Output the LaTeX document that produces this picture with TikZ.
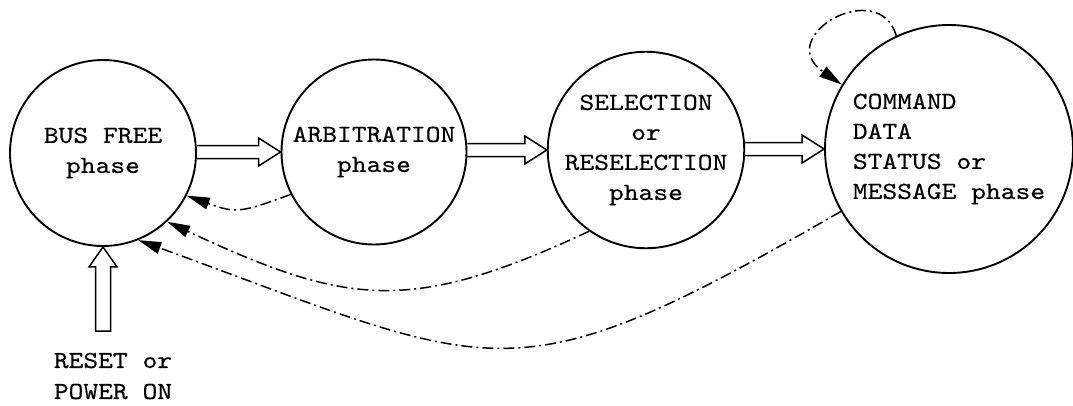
\documentclass[tikz,border=0pt]{standalone}
\usepackage{fontspec}
\setmonofont{lmmono10-regular.otf}[FakeStretch=1.15,FakeBold=0.3]
\usetikzlibrary{arrows.meta,calc}
\tikzset{
  phasenode/.style={circle,draw,line width=1.9pt,inner sep=0pt,
    font={\ttfamily\fontsize{24.5pt}{30pt}\selectfont}},
  hollowarrow/.style={draw,line width=1.5pt,line join=miter},
  returnarrow/.style={line width=1.5pt,
    dash pattern=on 11pt off 4pt on 2pt off 4pt,
    -{Triangle[length=23pt,width=12pt]}},
  labeltext/.style={font={\ttfamily\fontsize{24.5pt}{31pt}\selectfont},align=left,inner sep=0pt}
}
\begin{document}
\begin{tikzpicture}[x=1pt,y=-1pt]
\useasboundingbox (0,0) rectangle (1073,405);
% phase circles
\node[phasenode,minimum size=186pt,align=center] (bus) at (103,153) {BUS FREE\\phase};
\node[phasenode,minimum size=185pt,align=center] (arb) at (374,152) {ARBITRATION\\phase};
\node[phasenode,minimum size=185pt,align=center] (sel) at (646,150) {SELECTION\\or\\RESELECTION\\phase};
\node[phasenode,minimum size=248pt,align=left] (cmd) at (949,149) {COMMAND\\DATA\\STATUS or\\MESSAGE phase};
% reset label
\node[labeltext] (rst) at (113,376) {RESET or\\POWER ON};
\coordinate (rstarrow) at (103,331);
% hollow forward arrows
\draw[hollowarrow] let \p1=(bus.east), \p2=(arb.west) in
  (\x1,\y2+6.5pt) -- (\x2-22pt,\y2+6.5pt) -- (\x2-22pt,\y2+14pt) -- (\x2,\y2)
  -- (\x2-22pt,\y2-14pt) -- (\x2-22pt,\y2-6.5pt) -- (\x1,\y2-6.5pt);
\draw[hollowarrow] let \p1=(arb.east), \p2=(sel.west) in
  (\x1,\y2+6.5pt) -- (\x2-22pt,\y2+6.5pt) -- (\x2-22pt,\y2+14pt) -- (\x2,\y2)
  -- (\x2-22pt,\y2-14pt) -- (\x2-22pt,\y2-6.5pt) -- (\x1,\y2-6.5pt);
\draw[hollowarrow] let \p1=(sel.east), \p2=(cmd.west) in
  (\x1,\y2+6.5pt) -- (\x2-22pt,\y2+6.5pt) -- (\x2-22pt,\y2+14pt) -- (\x2,\y2)
  -- (\x2-22pt,\y2-14pt) -- (\x2-22pt,\y2-6.5pt) -- (\x1,\y2-6.5pt);
% hollow reset arrow
\draw[hollowarrow] let \p1=(bus.south), \p2=(rstarrow) in
  (\x1-7.5pt,\y2) -- (\x1-7.5pt,\y1-20pt) -- (\x1-14pt,\y1-20pt) -- (\x1,\y1)
  -- (\x1+14pt,\y1-20pt) -- (\x1+7.5pt,\y1-20pt) -- (\x1+7.5pt,\y2) -- cycle;
% return arrows
\draw[returnarrow] (arb.207) to[out=200,in=-20,looseness=1.3] (bus.-27);
\draw[returnarrow] (sel.235) to[out=205,in=-25,looseness=1.2] (bus.-47);
\draw[returnarrow] (cmd.210) to[out=210,in=-20,looseness=1.4] (bus.-68);
\draw[returnarrow] (cmd.115) .. controls ($(cmd.115)+(-17,-60)$) and ($(cmd.149)+(-70,-48)$) .. (cmd.149);
\end{tikzpicture}
\end{document}
